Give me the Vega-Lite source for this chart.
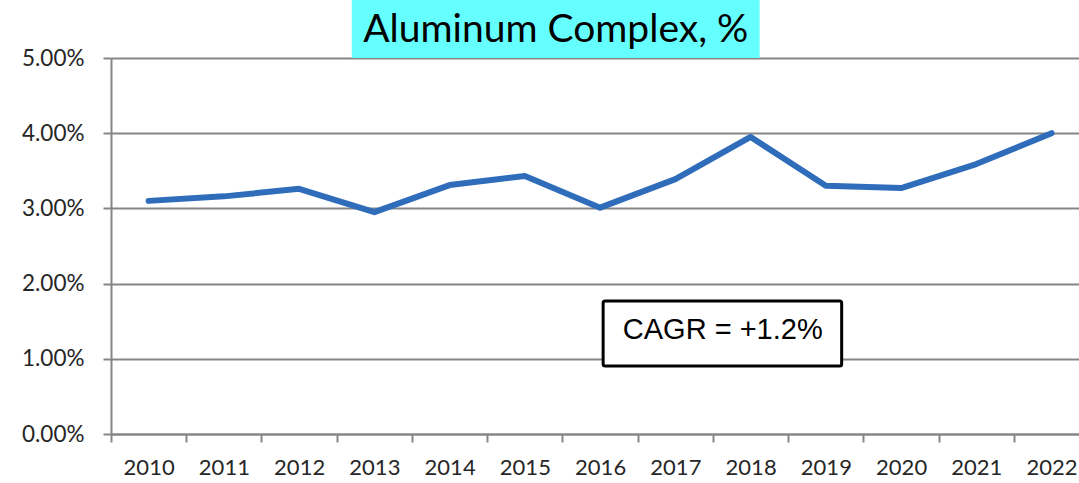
{
  "$schema": "https://vega.github.io/schema/vega-lite/v6.json",
  "autosize": {"type": "none"},
  "padding": {"left": 111, "top": 58, "right": 0, "bottom": 49},
  "width": 968,
  "height": 376,
  "background": "white",
  "config": {"view": {"stroke": null}},
  "resolve": {"axis": {"x": "independent"}},
  "datasets": {
    "series": [
      {"year": 2010, "value": 0.0310},
      {"year": 2011, "value": 0.0316},
      {"year": 2012, "value": 0.0326},
      {"year": 2013, "value": 0.0295},
      {"year": 2014, "value": 0.0331},
      {"year": 2015, "value": 0.0343},
      {"year": 2016, "value": 0.0301},
      {"year": 2017, "value": 0.0339},
      {"year": 2018, "value": 0.0395},
      {"year": 2019, "value": 0.0330},
      {"year": 2020, "value": 0.0327},
      {"year": 2021, "value": 0.0359},
      {"year": 2022, "value": 0.0400}
    ],
    "titlebox": [{"x0": 2012.70, "x1": 2018.12, "y0": 0.05, "y1": 0.0578, "xm": 2015.41, "ym": 0.0537, "label": "Aluminum Complex, %"}],
    "cagrbox": [{"x0": 2016.04, "x1": 2019.21, "y0": 0.0177, "y1": 0.00905, "xm": 2017.63, "ym": 0.01383, "label": "CAGR = +1.2%"}]
  },
  "layer": [
    {
      "data": {"name": "series"},
      "mark": {"type": "line", "color": "#2F6CBA", "strokeWidth": 6, "strokeCap": "round", "strokeJoin": "round"},
      "encoding": {
        "x": {
          "field": "year", "type": "quantitative",
          "scale": {"domain": [2009.5, 2022.364], "nice": false, "zero": false},
          "axis": {
            "orient": "bottom",
            "title": null,
            "values": [2009.5, 2010.5, 2011.5, 2012.5, 2013.5, 2014.5, 2015.5, 2016.5, 2017.5, 2018.5, 2019.5, 2020.5, 2021.5, 2022.5],
            "labels": false,
            "grid": false,
            "domainColor": "#868686",
            "domainWidth": 2,
            "tickColor": "#868686",
            "tickWidth": 2,
            "tickSize": 8
          }
        },
        "y": {
          "field": "value", "type": "quantitative",
          "scale": {"domain": [0, 0.05], "nice": false},
          "axis": {
            "title": null,
            "values": [0, 0.01, 0.02, 0.03, 0.04, 0.05],
            "format": ".2%",
            "grid": true,
            "gridColor": "#868686",
            "gridWidth": 2,
            "domainColor": "#868686",
            "domainWidth": 2,
            "tickColor": "#868686",
            "tickWidth": 2,
            "tickSize": 8,
            "labelFont": "Lato",
            "labelFontSize": 22.5,
            "labelColor": "#262626",
            "labelPadding": 19
          }
        }
      }
    },
    {
      "data": {"name": "series"},
      "mark": {"type": "point", "opacity": 0},
      "encoding": {
        "x": {
          "field": "year", "type": "quantitative",
          "axis": {
            "orient": "bottom",
            "title": null,
            "values": [2010, 2011, 2012, 2013, 2014, 2015, 2016, 2017, 2018, 2019, 2020, 2021, 2022],
            "format": "d",
            "ticks": false,
            "domain": false,
            "grid": false,
            "labelOverlap": false,
            "labelFont": "Lato",
            "labelFontSize": 22,
            "labelColor": "#262626",
            "labelPadding": 23
          }
        },
        "y": {"field": "value", "type": "quantitative"}
      }
    },
    {
      "data": {"name": "titlebox"},
      "mark": {"type": "rect", "fill": "#66FFFF"},
      "encoding": {
        "x": {"field": "x0", "type": "quantitative", "axis": null},
        "x2": {"field": "x1"},
        "y": {"field": "y0", "type": "quantitative"},
        "y2": {"field": "y1"}
      }
    },
    {
      "data": {"name": "titlebox"},
      "mark": {"type": "text", "font": "Lato", "fontSize": 39, "color": "#000000", "align": "center", "baseline": "middle"},
      "encoding": {
        "x": {"field": "xm", "type": "quantitative", "axis": null},
        "y": {"field": "ym", "type": "quantitative"},
        "text": {"field": "label"}
      }
    },
    {
      "data": {"name": "cagrbox"},
      "mark": {"type": "rect", "fill": "white", "stroke": "#000000", "strokeWidth": 3, "cornerRadius": 2},
      "encoding": {
        "x": {"field": "x0", "type": "quantitative", "axis": null},
        "x2": {"field": "x1"},
        "y": {"field": "y0", "type": "quantitative"},
        "y2": {"field": "y1"}
      }
    },
    {
      "data": {"name": "cagrbox"},
      "mark": {"type": "text", "font": "Liberation Sans", "fontSize": 29, "color": "#000000", "align": "center", "baseline": "middle"},
      "encoding": {
        "x": {"field": "xm", "type": "quantitative", "axis": null},
        "y": {"field": "ym", "type": "quantitative"},
        "text": {"field": "label"}
      }
    }
  ]
}
